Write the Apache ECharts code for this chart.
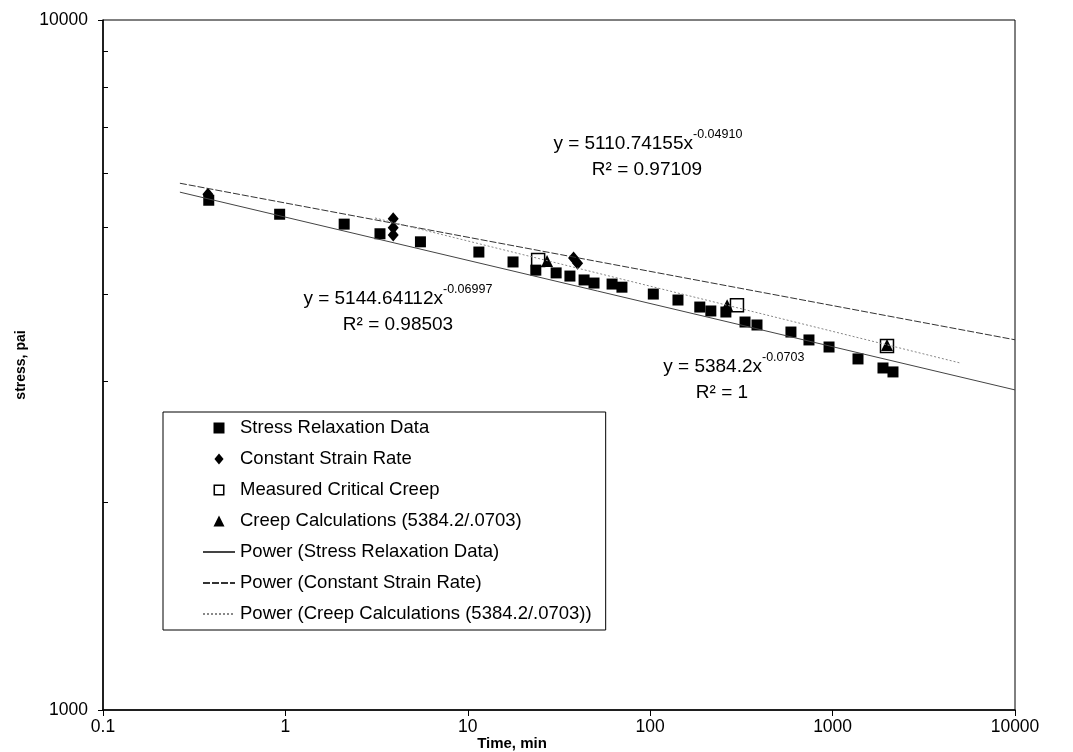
<!DOCTYPE html>
<html><head><meta charset="utf-8">
<script src="https://cdn.jsdelivr.net/npm/echarts@6/dist/echarts.min.js"></script>
<style>html,body{margin:0;padding:0;background:#fff}#c{width:1073px;height:752px}</style>
</head><body><div id="c"></div>
<script>
// ---- data ----
const xRange = [0.1, 10000];
const yRange = [1000, 10000];

const relaxTime   = [0.38, 0.93, 2.1, 3.3, 5.5, 11.5, 17.7, 23.6, 30.5, 36.3, 43.4, 49.2, 61.8, 70, 104, 142, 187, 215, 260, 331, 385, 591, 742, 956, 1378, 1889, 2143];
const relaxStress = [5480, 5230, 5060, 4900, 4770, 4610, 4460, 4340, 4300, 4255, 4200, 4157, 4143, 4100, 4007, 3928, 3837, 3787, 3774, 3650, 3614, 3530, 3438, 3358, 3227, 3131, 3090];

const strainTime   = [0.376, 3.9, 3.9, 3.9, 38, 40];
const strainStress = [5590, 5150, 5000, 4880, 4520, 4440];

const measTime   = [24.3, 299, 1987];
const measStress = [4490, 3860, 3370];

const calcTime   = [27.2, 264, 1987];
const calcStress = [4475, 3860, 3380];

// power-law trend lines (end points)
const fitRelaxTime   = [0.264, 10000];
const fitRelaxStress = [5630, 2910];
const fitStrainTime   = [0.264, 10000];
const fitStrainStress = [5800, 3440];
const fitCreepTime   = [3.1, 5000];
const fitCreepStress = [5165, 3184];

const names = [
  'Stress Relaxation Data',
  'Constant Strain Rate',
  'Measured Critical Creep',
  'Creep Calculations (5384.2/.0703)',
  'Power (Stress Relaxation Data)',
  'Power (Constant Strain Rate)',
  'Power (Creep Calculations (5384.2/.0703))'
];

const zip = (a, b) => a.map((v, i) => [v, b[i]]);

const F = "'Liberation Sans', Arial, sans-serif";
const FN = "'Liberation Sans Narrow', 'Liberation Sans', Arial, sans-serif";
const fmt = v => String(+Number(v).toPrecision(6));

function eqText(id, rightX, y, main, sup, r2, r2CenterX) {
  return [
    { type: 'text', id: id + 'm', x: rightX, y: y, z: 50,
      style: { text: main, font: '19px ' + F, fill: '#000', align: 'right', verticalAlign: 'middle' } },
    { type: 'text', id: id + 's', x: rightX, y: y - 9, z: 50,
      style: { text: sup, font: '12.5px ' + F, fill: '#000', align: 'left', verticalAlign: 'middle' } },
    { type: 'text', id: id + 'r', x: r2CenterX, y: y + 26, z: 50,
      style: { text: r2, font: '19px ' + F, fill: '#000', align: 'center', verticalAlign: 'middle' } }
  ];
}

const lineLegendStyle = { color: 'rgba(0,0,0,0)', borderColor: 'rgba(0,0,0,0)', borderWidth: 0 };
const blackIcon = { color: '#000', borderWidth: 0 };

const chart = echarts.init(document.getElementById('c'), null, { renderer: 'canvas' });

const option = {
  animation: false,
  backgroundColor: '#fff',
  grid: { left: 103, right: 58, top: 20, bottom: 42, show: true, borderColor: '#000', borderWidth: 1, backgroundColor: 'transparent' },
  xAxis: {
    type: 'log', logBase: 10, min: xRange[0], max: xRange[1],
    axisLine: { show: true, lineStyle: { color: '#000', width: 1.5 } },
    axisTick: { show: true, length: 6, lineStyle: { color: '#000', width: 1 } },
    splitLine: { show: false },
    axisLabel: { fontSize: 17.5, fontFamily: FN, color: '#000', margin: 8, formatter: fmt }
  },
  yAxis: [{
    type: 'log', logBase: 10, min: yRange[0], max: yRange[1],
    name: 'stress, pai', nameLocation: 'middle', nameGap: 70,
    nameTextStyle: { fontSize: 14, fontWeight: 'bold', fontFamily: F, color: '#000' },
    axisLine: { show: true, lineStyle: { color: '#000', width: 1.5 } },
    axisTick: { show: true, length: 5, lineStyle: { color: '#000', width: 1 } },
    splitLine: { show: false },
    axisLabel: { fontSize: 17.5, fontFamily: F, color: '#000', margin: 15, formatter: fmt }
  }, {
    type: 'log', logBase: 10, min: yRange[0], max: yRange[1], position: 'left',
    axisLine: { show: false },
    axisTick: { show: false, inside: true },
    minorTick: { show: true, splitNumber: 9, length: 5, lineStyle: { color: '#000', width: 1 } },
    axisLabel: { show: false },
    splitLine: { show: false }
  }],
  legend: {
    orient: 'vertical', left: 163, top: 412,
    padding: [6, 14, 6, 39], itemGap: 11, itemWidth: 32, itemHeight: 11,
    symbolKeepAspect: true,
    borderColor: '#000', borderWidth: 1, backgroundColor: '#fff',
    textStyle: { fontSize: 18.5, fontFamily: F, color: '#000', lineHeight: 20 },
    data: [
      { name: names[0], icon: 'path://M0,0L10,0L10,10L0,10Z', itemStyle: blackIcon },
      { name: names[1], icon: 'path://M5,0L10,6L5,12L0,6Z', itemStyle: blackIcon },
      { name: names[2], icon: 'path://M0,0L0,10L10,10L10,0Z M1.4,1.4L8.6,1.4L8.6,8.6L1.4,8.6Z', itemStyle: blackIcon },
      { name: names[3], icon: 'path://M5,0L10,10L0,10Z', itemStyle: blackIcon },
      { name: names[4], itemStyle: lineLegendStyle },
      { name: names[5], itemStyle: lineLegendStyle },
      { name: names[6], itemStyle: lineLegendStyle }
    ]
  },
  series: [
    { name: names[4], type: 'line', data: zip(fitRelaxTime, fitRelaxStress), symbol: 'none', silent: true,
      itemStyle: { color: '#444' }, lineStyle: { color: '#444', width: 1, type: 'solid' } },
    { name: names[5], type: 'line', data: zip(fitStrainTime, fitStrainStress), symbol: 'none', silent: true,
      itemStyle: { color: '#333' }, lineStyle: { color: '#333', width: 1, type: [7, 2] } },
    { name: names[6], type: 'line', data: zip(fitCreepTime, fitCreepStress), symbol: 'none', silent: true,
      itemStyle: { color: '#888' }, lineStyle: { color: '#888', width: 1, type: [2, 2] } },
    { name: names[0], type: 'scatter', data: zip(relaxTime, relaxStress), symbol: 'rect', symbolSize: 11,
      itemStyle: { color: '#000', opacity: 1 } },
    { name: names[1], type: 'scatter', data: zip(strainTime, strainStress), symbol: 'diamond', symbolSize: [11, 13],
      itemStyle: { color: '#000', opacity: 1 } },
    { name: names[2], type: 'scatter', data: zip(measTime, measStress), symbol: 'rect', symbolSize: 13,
      itemStyle: { color: 'rgba(0,0,0,0)', borderColor: '#000', borderWidth: 1.5, opacity: 1 } },
    { name: names[3], type: 'scatter', data: zip(calcTime, calcStress), symbol: 'triangle', symbolSize: 12,
      itemStyle: { color: '#000', opacity: 1 } }
  ],
  graphic: [].concat(
    eqText('e1', 693, 144, 'y = 5110.74155x', '-0.04910', 'R² = 0.97109', 647),
    eqText('e2', 443, 299, 'y = 5144.64112x', '-0.06997', 'R² = 0.98503', 398),
    eqText('e3', 762, 367, 'y = 5384.2x', '-0.0703', 'R² = 1', 722),
    [{ type: 'text', id: 'xt', x: 512, y: 744, z: 50,
       style: { text: 'Time, min', font: 'bold 15px ' + FN, fill: '#000', align: 'center', verticalAlign: 'middle' } }]
  )
};
chart.setOption(option);
</script></body></html>
